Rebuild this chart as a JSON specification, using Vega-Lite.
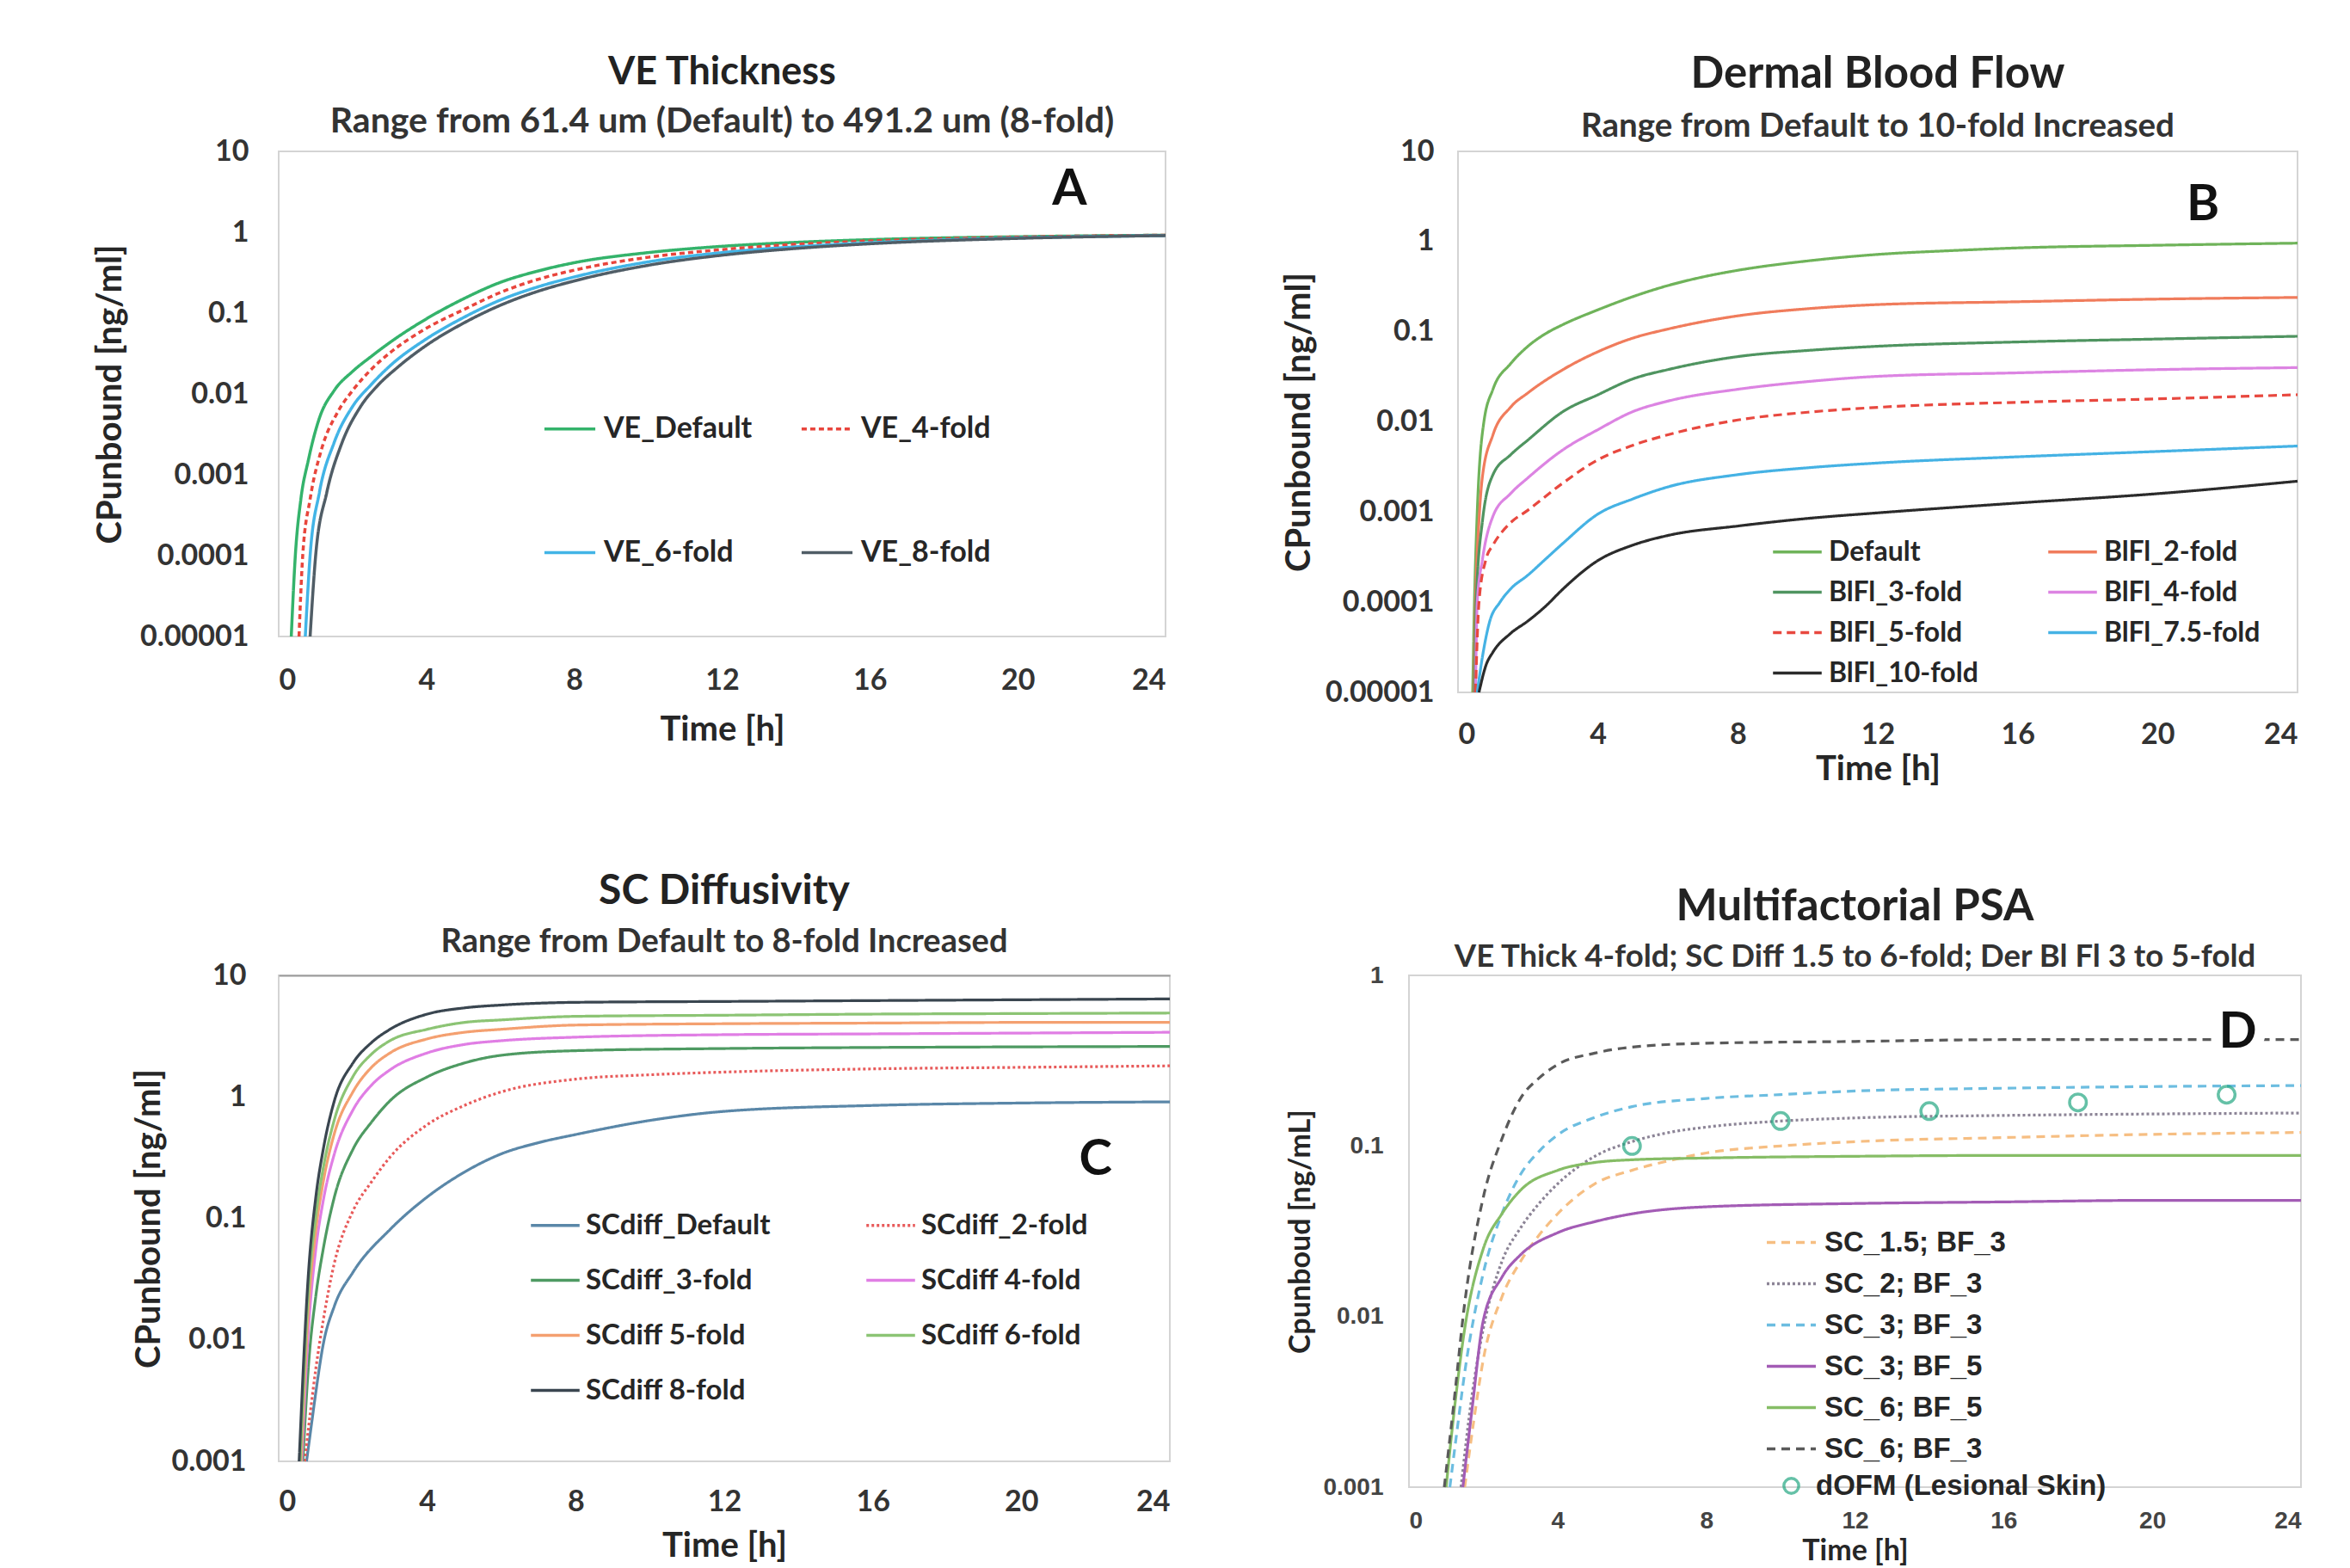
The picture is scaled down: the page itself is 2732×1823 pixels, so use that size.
{
  "$schema": "https://vega.github.io/schema/vega-lite/v6.json",
  "background": "white",
  "padding": {"left": 107, "top": 59, "right": 20, "bottom": 0},
  "config": {
    "font": "Lato",
    "view": {"stroke": "#d4d4d4", "strokeWidth": 2},
    "axis": {"labelFont": "Lato", "labelFontWeight": "bold", "labelFontSize": 34, "labelColor": "#333333", "titleFont": "Lato", "titleFontWeight": "bold", "titleFontSize": 40, "titleColor": "#262626", "ticks": false, "domain": false, "grid": false},
    "legend": {"labelFont": "Lato", "labelFontWeight": "bold", "labelColor": "#262626", "labelLimit": 0, "symbolType": "stroke", "symbolStrokeWidth": 4, "title": null},
    "title": {"font": "Lato", "subtitleFont": "Lato", "fontWeight": "bold", "subtitleFontWeight": "bold", "color": "#222222", "subtitleColor": "#333333", "anchor": "middle", "frame": "group"},
    "line": {"interpolate": "monotone", "strokeWidth": 3.5, "strokeCap": "butt"}
  },
  "resolve": {"scale": {"x": "independent", "y": "independent", "color": "independent", "strokeDash": "independent", "shape": "independent"}},
  "spacing": 97,
  "vconcat": [
    {
      "bounds": "flush",
      "spacing": 340,
      "resolve": {"scale": {"x": "independent", "y": "independent", "color": "independent", "strokeDash": "independent"}},
      "hconcat": [
        {
          "width": 1031, "height": 564,
          "title": {"text": "VE Thickness", "subtitle": "Range from 61.4 um (Default) to 491.2 um (8-fold)", "fontSize": 45, "subtitleFontSize": 41, "subtitlePadding": 15, "offset": -3},
          "encoding": {
            "x": {"field": "t", "type": "quantitative", "scale": {"domain": [0, 24], "nice": false}, "axis": {"values": [0, 4, 8, 12, 16, 20, 24], "title": "Time [h]", "labelPadding": 34, "titlePadding": 20}},
            "y": {"field": "c", "type": "quantitative", "scale": {"type": "log", "domain": [0.00001, 10], "nice": false}, "axis": {"values": [0.00001, 0.0001, 0.001, 0.01, 0.1, 1, 10], "format": "~f", "title": "CPunbound [ng/ml]", "labelPadding": 35, "titlePadding": 14}}
          },
          "layer": [
            {
              "data": {"name": "A"},
              "mark": {"type": "line", "strokeWidth": 3.5},
              "encoding": {
                "color": {"field": "series", "type": "nominal", "scale": {"domain": ["VE_Default", "VE_6-fold", "VE_4-fold", "VE_8-fold"], "range": ["#34b36b", "#42b4e6", "#e8453c", "#505d66"]},
                  "legend": {"orient": "none", "legendX": 307, "legendY": 291, "columns": 2, "columnPadding": 49, "rowPadding": 95, "symbolSize": 3500, "labelFontSize": 34, "labelOffset": 8}},
                "strokeDash": {"field": "series", "type": "nominal", "scale": {"domain": ["VE_Default", "VE_6-fold", "VE_4-fold", "VE_8-fold"], "range": [[1, 0], [1, 0], [6, 4], [1, 0]]},
                  "legend": {"orient": "none", "legendX": 307, "legendY": 291, "columns": 2, "columnPadding": 49, "rowPadding": 95, "symbolSize": 3500, "labelFontSize": 34, "labelOffset": 8}}
              }
            },
            {
              "data": {"name": "letters"},
              "transform": [{"filter": "datum.panel == 'A'"}],
              "mark": {"type": "text", "font": "Lato", "fontWeight": "bold", "fontSize": 58, "color": "#111111", "align": "center", "baseline": "middle"},
              "encoding": {"text": {"field": "label", "type": "nominal"}}
            }
          ]
        },
        {
          "width": 976, "height": 629,
          "title": {"text": "Dermal Blood Flow", "subtitle": "Range from Default to 10-fold Increased", "fontSize": 51, "subtitleFontSize": 38.5, "subtitlePadding": 16, "offset": -8},
          "encoding": {
            "x": {"field": "t", "type": "quantitative", "scale": {"domain": [0, 24], "nice": false}, "axis": {"values": [0, 4, 8, 12, 16, 20, 24], "title": "Time [h]", "labelPadding": 32, "titlePadding": 3}},
            "y": {"field": "c", "type": "quantitative", "scale": {"type": "log", "domain": [0.00001, 10], "nice": false}, "axis": {"values": [0.00001, 0.0001, 0.001, 0.01, 0.1, 1, 10], "format": "~f", "title": "CPunbound [ng/ml]", "labelPadding": 28, "titlePadding": 10}}
          },
          "layer": [
            {
              "data": {"name": "B"},
              "mark": {"type": "line", "strokeWidth": 3.2},
              "encoding": {
                "color": {"field": "series", "type": "nominal", "scale": {"domain": ["Default", "BlFl_3-fold", "BlFl_5-fold", "BlFl_10-fold", "BlFl_2-fold", "BlFl_4-fold", "BlFl_7.5-fold"], "range": ["#6fb35a", "#4f9460", "#e8483f", "#2b2b2b", "#f07c5c", "#dc84e2", "#45b2e4"]},
                  "legend": {"orient": "none", "legendX": 364, "legendY": 435, "columns": 2, "columnPadding": 74, "rowPadding": -3, "symbolSize": 3200, "labelFontSize": 32, "labelOffset": 6}},
                "strokeDash": {"field": "series", "type": "nominal", "scale": {"domain": ["Default", "BlFl_3-fold", "BlFl_5-fold", "BlFl_10-fold", "BlFl_2-fold", "BlFl_4-fold", "BlFl_7.5-fold"], "range": [[1, 0], [1, 0], [10, 6], [1, 0], [1, 0], [1, 0], [1, 0]]},
                  "legend": {"orient": "none", "legendX": 364, "legendY": 435, "columns": 2, "columnPadding": 74, "rowPadding": -3, "symbolSize": 3200, "labelFontSize": 32, "labelOffset": 6}}
              }
            },
            {
              "data": {"name": "letters"},
              "transform": [{"filter": "datum.panel == 'B'"}],
              "mark": {"type": "text", "font": "Lato", "fontWeight": "bold", "fontSize": 58, "color": "#111111", "align": "center", "baseline": "middle"},
              "encoding": {"text": {"field": "label", "type": "nominal"}}
            }
          ]
        }
      ]
    },
    {
      "bounds": "flush",
      "spacing": 278,
      "resolve": {"scale": {"x": "independent", "y": "independent", "color": "independent", "strokeDash": "independent", "shape": "independent"}},
      "hconcat": [
        {
          "width": 1036, "height": 565,
          "title": {"text": "SC Diffusivity", "subtitle": "Range from Default to 8-fold Increased", "fontSize": 48, "subtitleFontSize": 38, "subtitlePadding": 16, "offset": 2},
          "encoding": {
            "x": {"field": "t", "type": "quantitative", "scale": {"domain": [0, 24], "nice": false}, "axis": {"values": [0, 4, 8, 12, 16, 20, 24], "title": "Time [h]", "labelPadding": 30, "titlePadding": 14}},
            "y": {"field": "c", "type": "quantitative", "scale": {"type": "log", "domain": [0.001, 10], "nice": false}, "axis": {"values": [0.001, 0.01, 0.1, 1, 10], "format": "~f", "title": "CPunbound [ng/ml]", "labelPadding": 38, "titlePadding": 6, "grid": true, "gridWidth": 2, "gridColor": {"condition": {"test": "datum.value >= 9", "value": "#9a9a9a"}, "value": "transparent"}}}
          },
          "layer": [
            {
              "data": {"name": "C"},
              "mark": {"type": "line", "strokeWidth": 3.2},
              "encoding": {
                "color": {"field": "series", "type": "nominal", "scale": {"domain": ["SCdiff_Default", "SCdiff_3-fold", "SCdiff 5-fold", "SCdiff 8-fold", "SCdiff_2-fold", "SCdiff 4-fold", "SCdiff 6-fold"], "range": ["#5a87a8", "#4e9a62", "#f4a070", "#3a4650", "#e85a5a", "#e07ee4", "#8cc474"]},
                  "legend": {"orient": "none", "legendX": 291, "legendY": 260, "columns": 2, "columnPadding": 104, "rowPadding": 16, "symbolSize": 3200, "labelFontSize": 33, "labelOffset": 5}},
                "strokeDash": {"field": "series", "type": "nominal", "scale": {"domain": ["SCdiff_Default", "SCdiff_3-fold", "SCdiff 5-fold", "SCdiff 8-fold", "SCdiff_2-fold", "SCdiff 4-fold", "SCdiff 6-fold"], "range": [[1, 0], [1, 0], [1, 0], [1, 0], [3, 3], [1, 0], [1, 0]]},
                  "legend": {"orient": "none", "legendX": 291, "legendY": 260, "columns": 2, "columnPadding": 104, "rowPadding": 16, "symbolSize": 3200, "labelFontSize": 33, "labelOffset": 5}}
              }
            },
            {
              "data": {"name": "letters"},
              "transform": [{"filter": "datum.panel == 'C'"}],
              "mark": {"type": "text", "font": "Lato", "fontWeight": "bold", "fontSize": 58, "color": "#111111", "align": "center", "baseline": "middle"},
              "encoding": {"text": {"field": "label", "type": "nominal"}}
            }
          ]
        },
        {
          "width": 1037, "height": 595,
          "title": {"text": "Multifactorial PSA", "subtitle": "VE Thick 4-fold; SC Diff 1.5 to 6-fold; Der Bl Fl 3 to 5-fold", "fontSize": 51, "subtitleFontSize": 36.5, "subtitlePadding": 14, "offset": -12},
          "encoding": {
            "x": {"field": "t", "type": "quantitative", "scale": {"domain": [0, 24], "nice": false}, "axis": {"values": [0, 4, 8, 12, 16, 20, 24], "title": "Time [h]", "labelPadding": 25, "titlePadding": 4, "labelFont": "Liberation Sans", "labelFontSize": 28, "labelColor": "#444444", "titleFontSize": 34}},
            "y": {"field": "c", "type": "quantitative", "scale": {"type": "log", "domain": [0.001, 1], "nice": false}, "axis": {"values": [0.001, 0.01, 0.1, 1], "format": "~f", "title": "Cpunboud [ng/mL]", "labelPadding": 30, "titlePadding": 8, "labelFont": "Liberation Sans", "labelFontSize": 28, "labelColor": "#444444", "titleFontSize": 34}}
          },
          "layer": [
            {
              "data": {"name": "D"},
              "mark": {"type": "line", "strokeWidth": 3.2},
              "encoding": {
                "color": {"field": "series", "type": "nominal", "scale": {"domain": ["SC_1.5; BF_3", "SC_2; BF_3", "SC_3; BF_3", "SC_3; BF_5", "SC_6; BF_5", "SC_6; BF_3"], "range": ["#f6be82", "#8c8496", "#6cbde0", "#a35cb5", "#86bd66", "#5a5a5a"]},
                  "legend": {"orient": "none", "legendX": 414, "legendY": 280, "columns": 1, "rowPadding": -3, "symbolSize": 3250, "labelFont": "Liberation Sans", "labelFontSize": 33, "labelOffset": 8}},
                "strokeDash": {"field": "series", "type": "nominal", "scale": {"domain": ["SC_1.5; BF_3", "SC_2; BF_3", "SC_3; BF_3", "SC_3; BF_5", "SC_6; BF_5", "SC_6; BF_3"], "range": [[10, 7], [3, 3], [10, 7], [1, 0], [1, 0], [10, 7]]},
                  "legend": {"orient": "none", "legendX": 414, "legendY": 280, "columns": 1, "rowPadding": -3, "symbolSize": 3250, "labelFont": "Liberation Sans", "labelFontSize": 33, "labelOffset": 8}}
              }
            },
            {
              "data": {"name": "obs"},
              "mark": {"type": "point", "filled": false, "stroke": "#24a882", "strokeWidth": 3.5, "size": 380},
              "encoding": {
                "shape": {"field": "series", "type": "nominal", "scale": {"domain": ["dOFM (Lesional Skin)"], "range": ["circle"]},
                  "legend": {"orient": "none", "legendX": 428, "legendY": 577, "symbolType": "circle", "symbolSize": 300, "symbolStrokeColor": "#24a882", "symbolFillColor": "transparent", "symbolStrokeWidth": 3.5, "labelFont": "Liberation Sans", "labelFontSize": 33, "labelOffset": 12}}
              }
            },
            {
              "data": {"name": "letters"},
              "transform": [{"filter": "datum.panel == 'D'"}],
              "mark": {"type": "text", "font": "Lato", "fontWeight": "bold", "fontSize": 58, "stroke": "white", "strokeWidth": 26, "color": "white", "align": "center", "baseline": "middle"},
              "encoding": {"text": {"field": "label", "type": "nominal"}}
            },
            {
              "data": {"name": "letters"},
              "transform": [{"filter": "datum.panel == 'D'"}],
              "mark": {"type": "text", "font": "Lato", "fontWeight": "bold", "fontSize": 58, "color": "#111111", "align": "center", "baseline": "middle"},
              "encoding": {"text": {"field": "label", "type": "nominal"}}
            }
          ]
        }
      ]
    }
  ],
  "datasets": {
    "letters": [
      {"panel": "A", "label": "A", "t": 21.4, "c": 3.3},
      {"panel": "B", "label": "B", "t": 21.3, "c": 2.5},
      {"panel": "C", "label": "C", "t": 22.0, "c": 0.3},
      {"panel": "D", "label": "D", "t": 22.3, "c": 0.46}
    ],
    "obs": [
      {"series": "dOFM (Lesional Skin)", "t": 6, "c": 0.1},
      {"series": "dOFM (Lesional Skin)", "t": 10, "c": 0.14},
      {"series": "dOFM (Lesional Skin)", "t": 14, "c": 0.16},
      {"series": "dOFM (Lesional Skin)", "t": 18, "c": 0.18},
      {"series": "dOFM (Lesional Skin)", "t": 22, "c": 0.2}
    ],
    "A": [
      {"series": "VE_Default", "t": 0.34, "c": 0.00001}, {"series": "VE_Default", "t": 0.45, "c": 0.0001}, {"series": "VE_Default", "t": 0.6, "c": 0.0005}, {"series": "VE_Default", "t": 0.8, "c": 0.0015}, {"series": "VE_Default", "t": 1.1, "c": 0.005}, {"series": "VE_Default", "t": 1.5, "c": 0.011}, {"series": "VE_Default", "t": 2, "c": 0.019}, {"series": "VE_Default", "t": 2.5, "c": 0.029}, {"series": "VE_Default", "t": 3, "c": 0.043}, {"series": "VE_Default", "t": 4, "c": 0.085}, {"series": "VE_Default", "t": 5, "c": 0.15}, {"series": "VE_Default", "t": 6, "c": 0.24}, {"series": "VE_Default", "t": 7, "c": 0.33}, {"series": "VE_Default", "t": 8, "c": 0.42}, {"series": "VE_Default", "t": 10, "c": 0.56}, {"series": "VE_Default", "t": 12, "c": 0.67}, {"series": "VE_Default", "t": 14, "c": 0.75}, {"series": "VE_Default", "t": 16, "c": 0.81}, {"series": "VE_Default", "t": 20, "c": 0.88}, {"series": "VE_Default", "t": 24, "c": 0.92},
      {"series": "VE_4-fold", "t": 0.55, "c": 0.00001}, {"series": "VE_4-fold", "t": 0.65, "c": 0.0001}, {"series": "VE_4-fold", "t": 0.85, "c": 0.0005}, {"series": "VE_4-fold", "t": 1.15, "c": 0.002}, {"series": "VE_4-fold", "t": 1.6, "c": 0.006}, {"series": "VE_4-fold", "t": 2, "c": 0.011}, {"series": "VE_4-fold", "t": 2.5, "c": 0.02}, {"series": "VE_4-fold", "t": 3, "c": 0.032}, {"series": "VE_4-fold", "t": 4, "c": 0.065}, {"series": "VE_4-fold", "t": 5, "c": 0.11}, {"series": "VE_4-fold", "t": 6, "c": 0.18}, {"series": "VE_4-fold", "t": 7, "c": 0.26}, {"series": "VE_4-fold", "t": 8, "c": 0.34}, {"series": "VE_4-fold", "t": 10, "c": 0.49}, {"series": "VE_4-fold", "t": 12, "c": 0.61}, {"series": "VE_4-fold", "t": 14, "c": 0.71}, {"series": "VE_4-fold", "t": 16, "c": 0.78}, {"series": "VE_4-fold", "t": 20, "c": 0.87}, {"series": "VE_4-fold", "t": 24, "c": 0.92},
      {"series": "VE_6-fold", "t": 0.72, "c": 0.00001}, {"series": "VE_6-fold", "t": 0.85, "c": 0.0001}, {"series": "VE_6-fold", "t": 1.1, "c": 0.0006}, {"series": "VE_6-fold", "t": 1.5, "c": 0.0025}, {"series": "VE_6-fold", "t": 2, "c": 0.007}, {"series": "VE_6-fold", "t": 2.5, "c": 0.013}, {"series": "VE_6-fold", "t": 3, "c": 0.022}, {"series": "VE_6-fold", "t": 4, "c": 0.048}, {"series": "VE_6-fold", "t": 5, "c": 0.088}, {"series": "VE_6-fold", "t": 6, "c": 0.145}, {"series": "VE_6-fold", "t": 7, "c": 0.21}, {"series": "VE_6-fold", "t": 8, "c": 0.28}, {"series": "VE_6-fold", "t": 10, "c": 0.43}, {"series": "VE_6-fold", "t": 12, "c": 0.56}, {"series": "VE_6-fold", "t": 14, "c": 0.66}, {"series": "VE_6-fold", "t": 16, "c": 0.74}, {"series": "VE_6-fold", "t": 20, "c": 0.85}, {"series": "VE_6-fold", "t": 24, "c": 0.91},
      {"series": "VE_8-fold", "t": 0.85, "c": 0.00001}, {"series": "VE_8-fold", "t": 1.0, "c": 0.0001}, {"series": "VE_8-fold", "t": 1.3, "c": 0.0006}, {"series": "VE_8-fold", "t": 1.7, "c": 0.0024}, {"series": "VE_8-fold", "t": 2.2, "c": 0.0068}, {"series": "VE_8-fold", "t": 2.7, "c": 0.013}, {"series": "VE_8-fold", "t": 3.2, "c": 0.021}, {"series": "VE_8-fold", "t": 4, "c": 0.04}, {"series": "VE_8-fold", "t": 5, "c": 0.075}, {"series": "VE_8-fold", "t": 6, "c": 0.125}, {"series": "VE_8-fold", "t": 7, "c": 0.185}, {"series": "VE_8-fold", "t": 8, "c": 0.25}, {"series": "VE_8-fold", "t": 10, "c": 0.39}, {"series": "VE_8-fold", "t": 12, "c": 0.52}, {"series": "VE_8-fold", "t": 14, "c": 0.63}, {"series": "VE_8-fold", "t": 16, "c": 0.72}, {"series": "VE_8-fold", "t": 20, "c": 0.84}, {"series": "VE_8-fold", "t": 24, "c": 0.91}
    ],
    "B": [
      {"series": "Default", "t": 0.42, "c": 0.00001}, {"series": "Default", "t": 0.47, "c": 0.0001}, {"series": "Default", "t": 0.55, "c": 0.001}, {"series": "Default", "t": 0.74, "c": 0.01}, {"series": "Default", "t": 1, "c": 0.023}, {"series": "Default", "t": 1.5, "c": 0.044}, {"series": "Default", "t": 2, "c": 0.069}, {"series": "Default", "t": 2.5, "c": 0.095}, {"series": "Default", "t": 3, "c": 0.12}, {"series": "Default", "t": 4, "c": 0.175}, {"series": "Default", "t": 5, "c": 0.245}, {"series": "Default", "t": 6, "c": 0.325}, {"series": "Default", "t": 7, "c": 0.405}, {"series": "Default", "t": 8, "c": 0.48}, {"series": "Default", "t": 10, "c": 0.61}, {"series": "Default", "t": 12, "c": 0.72}, {"series": "Default", "t": 14, "c": 0.79}, {"series": "Default", "t": 16, "c": 0.85}, {"series": "Default", "t": 20, "c": 0.91}, {"series": "Default", "t": 24, "c": 0.96},
      {"series": "BlFl_2-fold", "t": 0.45, "c": 0.00001}, {"series": "BlFl_2-fold", "t": 0.5, "c": 0.0001}, {"series": "BlFl_2-fold", "t": 0.6, "c": 0.0008}, {"series": "BlFl_2-fold", "t": 0.7, "c": 0.0025}, {"series": "BlFl_2-fold", "t": 1, "c": 0.0072}, {"series": "BlFl_2-fold", "t": 1.5, "c": 0.0145}, {"series": "BlFl_2-fold", "t": 2, "c": 0.021}, {"series": "BlFl_2-fold", "t": 3, "c": 0.038}, {"series": "BlFl_2-fold", "t": 4, "c": 0.06}, {"series": "BlFl_2-fold", "t": 5, "c": 0.085}, {"series": "BlFl_2-fold", "t": 6, "c": 0.107}, {"series": "BlFl_2-fold", "t": 8, "c": 0.15}, {"series": "BlFl_2-fold", "t": 10, "c": 0.18}, {"series": "BlFl_2-fold", "t": 12, "c": 0.2}, {"series": "BlFl_2-fold", "t": 16, "c": 0.215}, {"series": "BlFl_2-fold", "t": 20, "c": 0.23}, {"series": "BlFl_2-fold", "t": 24, "c": 0.24},
      {"series": "BlFl_3-fold", "t": 0.47, "c": 0.00001}, {"series": "BlFl_3-fold", "t": 0.52, "c": 0.0001}, {"series": "BlFl_3-fold", "t": 0.7, "c": 0.0008}, {"series": "BlFl_3-fold", "t": 1, "c": 0.0026}, {"series": "BlFl_3-fold", "t": 1.5, "c": 0.0043}, {"series": "BlFl_3-fold", "t": 2, "c": 0.0063}, {"series": "BlFl_3-fold", "t": 3, "c": 0.013}, {"series": "BlFl_3-fold", "t": 4, "c": 0.02}, {"series": "BlFl_3-fold", "t": 5, "c": 0.03}, {"series": "BlFl_3-fold", "t": 6, "c": 0.038}, {"series": "BlFl_3-fold", "t": 8, "c": 0.053}, {"series": "BlFl_3-fold", "t": 10, "c": 0.062}, {"series": "BlFl_3-fold", "t": 12, "c": 0.069}, {"series": "BlFl_3-fold", "t": 16, "c": 0.077}, {"series": "BlFl_3-fold", "t": 20, "c": 0.083}, {"series": "BlFl_3-fold", "t": 24, "c": 0.089},
      {"series": "BlFl_4-fold", "t": 0.5, "c": 0.00001}, {"series": "BlFl_4-fold", "t": 0.55, "c": 0.0001}, {"series": "BlFl_4-fold", "t": 0.7, "c": 0.0003}, {"series": "BlFl_4-fold", "t": 1, "c": 0.0009}, {"series": "BlFl_4-fold", "t": 1.5, "c": 0.0016}, {"series": "BlFl_4-fold", "t": 2, "c": 0.0024}, {"series": "BlFl_4-fold", "t": 3, "c": 0.0049}, {"series": "BlFl_4-fold", "t": 4, "c": 0.0082}, {"series": "BlFl_4-fold", "t": 5, "c": 0.013}, {"series": "BlFl_4-fold", "t": 6, "c": 0.017}, {"series": "BlFl_4-fold", "t": 8, "c": 0.023}, {"series": "BlFl_4-fold", "t": 10, "c": 0.028}, {"series": "BlFl_4-fold", "t": 12, "c": 0.032}, {"series": "BlFl_4-fold", "t": 16, "c": 0.035}, {"series": "BlFl_4-fold", "t": 20, "c": 0.038}, {"series": "BlFl_4-fold", "t": 24, "c": 0.04},
      {"series": "BlFl_5-fold", "t": 0.5, "c": 0.00001}, {"series": "BlFl_5-fold", "t": 0.6, "c": 0.0001}, {"series": "BlFl_5-fold", "t": 0.8, "c": 0.0003}, {"series": "BlFl_5-fold", "t": 1, "c": 0.00043}, {"series": "BlFl_5-fold", "t": 1.5, "c": 0.00076}, {"series": "BlFl_5-fold", "t": 2, "c": 0.00105}, {"series": "BlFl_5-fold", "t": 3, "c": 0.0021}, {"series": "BlFl_5-fold", "t": 4, "c": 0.0038}, {"series": "BlFl_5-fold", "t": 5, "c": 0.0055}, {"series": "BlFl_5-fold", "t": 6, "c": 0.0072}, {"series": "BlFl_5-fold", "t": 8, "c": 0.0105}, {"series": "BlFl_5-fold", "t": 10, "c": 0.0128}, {"series": "BlFl_5-fold", "t": 12, "c": 0.0145}, {"series": "BlFl_5-fold", "t": 16, "c": 0.0165}, {"series": "BlFl_5-fold", "t": 20, "c": 0.018}, {"series": "BlFl_5-fold", "t": 24, "c": 0.02},
      {"series": "BlFl_7.5-fold", "t": 0.55, "c": 0.00001}, {"series": "BlFl_7.5-fold", "t": 0.7, "c": 0.000025}, {"series": "BlFl_7.5-fold", "t": 0.9, "c": 0.00006}, {"series": "BlFl_7.5-fold", "t": 1.2, "c": 0.0001}, {"series": "BlFl_7.5-fold", "t": 1.5, "c": 0.00014}, {"series": "BlFl_7.5-fold", "t": 2, "c": 0.0002}, {"series": "BlFl_7.5-fold", "t": 2.5, "c": 0.0003}, {"series": "BlFl_7.5-fold", "t": 3, "c": 0.00045}, {"series": "BlFl_7.5-fold", "t": 4, "c": 0.00095}, {"series": "BlFl_7.5-fold", "t": 5, "c": 0.0014}, {"series": "BlFl_7.5-fold", "t": 6, "c": 0.0019}, {"series": "BlFl_7.5-fold", "t": 8, "c": 0.0026}, {"series": "BlFl_7.5-fold", "t": 10, "c": 0.0031}, {"series": "BlFl_7.5-fold", "t": 12, "c": 0.0035}, {"series": "BlFl_7.5-fold", "t": 16, "c": 0.0041}, {"series": "BlFl_7.5-fold", "t": 20, "c": 0.0047}, {"series": "BlFl_7.5-fold", "t": 24, "c": 0.0054},
      {"series": "BlFl_10-fold", "t": 0.6, "c": 0.00001}, {"series": "BlFl_10-fold", "t": 0.8, "c": 0.00002}, {"series": "BlFl_10-fold", "t": 1, "c": 0.000028}, {"series": "BlFl_10-fold", "t": 1.5, "c": 0.000045}, {"series": "BlFl_10-fold", "t": 2, "c": 0.000062}, {"series": "BlFl_10-fold", "t": 2.5, "c": 0.00009}, {"series": "BlFl_10-fold", "t": 3, "c": 0.00014}, {"series": "BlFl_10-fold", "t": 4, "c": 0.00029}, {"series": "BlFl_10-fold", "t": 5, "c": 0.00043}, {"series": "BlFl_10-fold", "t": 6, "c": 0.00055}, {"series": "BlFl_10-fold", "t": 8, "c": 0.0007}, {"series": "BlFl_10-fold", "t": 10, "c": 0.00085}, {"series": "BlFl_10-fold", "t": 12, "c": 0.00098}, {"series": "BlFl_10-fold", "t": 16, "c": 0.00126}, {"series": "BlFl_10-fold", "t": 20, "c": 0.0016}, {"series": "BlFl_10-fold", "t": 24, "c": 0.0022}
    ],
    "C": [
      {"series": "SCdiff_Default", "t": 0.75, "c": 0.001}, {"series": "SCdiff_Default", "t": 0.9, "c": 0.0022}, {"series": "SCdiff_Default", "t": 1, "c": 0.0037}, {"series": "SCdiff_Default", "t": 1.2, "c": 0.0092}, {"series": "SCdiff_Default", "t": 1.5, "c": 0.019}, {"series": "SCdiff_Default", "t": 2, "c": 0.036}, {"series": "SCdiff_Default", "t": 3, "c": 0.081}, {"series": "SCdiff_Default", "t": 4, "c": 0.15}, {"series": "SCdiff_Default", "t": 5, "c": 0.24}, {"series": "SCdiff_Default", "t": 6, "c": 0.34}, {"series": "SCdiff_Default", "t": 7, "c": 0.42}, {"series": "SCdiff_Default", "t": 8, "c": 0.49}, {"series": "SCdiff_Default", "t": 10, "c": 0.64}, {"series": "SCdiff_Default", "t": 12, "c": 0.76}, {"series": "SCdiff_Default", "t": 16, "c": 0.85}, {"series": "SCdiff_Default", "t": 20, "c": 0.89}, {"series": "SCdiff_Default", "t": 24, "c": 0.91},
      {"series": "SCdiff_2-fold", "t": 0.7, "c": 0.001}, {"series": "SCdiff_2-fold", "t": 0.85, "c": 0.0025}, {"series": "SCdiff_2-fold", "t": 1, "c": 0.0058}, {"series": "SCdiff_2-fold", "t": 1.2, "c": 0.0145}, {"series": "SCdiff_2-fold", "t": 1.5, "c": 0.043}, {"series": "SCdiff_2-fold", "t": 2, "c": 0.115}, {"series": "SCdiff_2-fold", "t": 2.5, "c": 0.2}, {"series": "SCdiff_2-fold", "t": 3, "c": 0.32}, {"series": "SCdiff_2-fold", "t": 4, "c": 0.59}, {"series": "SCdiff_2-fold", "t": 5, "c": 0.85}, {"series": "SCdiff_2-fold", "t": 6, "c": 1.1}, {"series": "SCdiff_2-fold", "t": 8, "c": 1.4}, {"series": "SCdiff_2-fold", "t": 10, "c": 1.52}, {"series": "SCdiff_2-fold", "t": 12, "c": 1.6}, {"series": "SCdiff_2-fold", "t": 16, "c": 1.7}, {"series": "SCdiff_2-fold", "t": 20, "c": 1.75}, {"series": "SCdiff_2-fold", "t": 24, "c": 1.8},
      {"series": "SCdiff_3-fold", "t": 0.65, "c": 0.001}, {"series": "SCdiff_3-fold", "t": 0.8, "c": 0.006}, {"series": "SCdiff_3-fold", "t": 1, "c": 0.023}, {"series": "SCdiff_3-fold", "t": 1.2, "c": 0.056}, {"series": "SCdiff_3-fold", "t": 1.5, "c": 0.15}, {"series": "SCdiff_3-fold", "t": 2, "c": 0.37}, {"series": "SCdiff_3-fold", "t": 2.5, "c": 0.62}, {"series": "SCdiff_3-fold", "t": 3, "c": 0.93}, {"series": "SCdiff_3-fold", "t": 4, "c": 1.46}, {"series": "SCdiff_3-fold", "t": 5, "c": 1.9}, {"series": "SCdiff_3-fold", "t": 6, "c": 2.2}, {"series": "SCdiff_3-fold", "t": 8, "c": 2.4}, {"series": "SCdiff_3-fold", "t": 12, "c": 2.5}, {"series": "SCdiff_3-fold", "t": 16, "c": 2.55}, {"series": "SCdiff_3-fold", "t": 20, "c": 2.58}, {"series": "SCdiff_3-fold", "t": 24, "c": 2.6},
      {"series": "SCdiff 4-fold", "t": 0.62, "c": 0.001}, {"series": "SCdiff 4-fold", "t": 0.8, "c": 0.012}, {"series": "SCdiff 4-fold", "t": 1, "c": 0.056}, {"series": "SCdiff 4-fold", "t": 1.2, "c": 0.14}, {"series": "SCdiff 4-fold", "t": 1.5, "c": 0.34}, {"series": "SCdiff 4-fold", "t": 2, "c": 0.78}, {"series": "SCdiff 4-fold", "t": 2.5, "c": 1.25}, {"series": "SCdiff 4-fold", "t": 3, "c": 1.67}, {"series": "SCdiff 4-fold", "t": 4, "c": 2.3}, {"series": "SCdiff 4-fold", "t": 5, "c": 2.7}, {"series": "SCdiff 4-fold", "t": 6, "c": 2.9}, {"series": "SCdiff 4-fold", "t": 8, "c": 3.1}, {"series": "SCdiff 4-fold", "t": 12, "c": 3.25}, {"series": "SCdiff 4-fold", "t": 16, "c": 3.3}, {"series": "SCdiff 4-fold", "t": 20, "c": 3.35}, {"series": "SCdiff 4-fold", "t": 24, "c": 3.4},
      {"series": "SCdiff 5-fold", "t": 0.6, "c": 0.001}, {"series": "SCdiff 5-fold", "t": 0.8, "c": 0.018}, {"series": "SCdiff 5-fold", "t": 1, "c": 0.08}, {"series": "SCdiff 5-fold", "t": 1.2, "c": 0.2}, {"series": "SCdiff 5-fold", "t": 1.5, "c": 0.5}, {"series": "SCdiff 5-fold", "t": 2, "c": 1.1}, {"series": "SCdiff 5-fold", "t": 2.5, "c": 1.75}, {"series": "SCdiff 5-fold", "t": 3, "c": 2.3}, {"series": "SCdiff 5-fold", "t": 4, "c": 3.0}, {"series": "SCdiff 5-fold", "t": 5, "c": 3.4}, {"series": "SCdiff 5-fold", "t": 6, "c": 3.6}, {"series": "SCdiff 5-fold", "t": 8, "c": 3.9}, {"series": "SCdiff 5-fold", "t": 12, "c": 4.0}, {"series": "SCdiff 5-fold", "t": 16, "c": 4.05}, {"series": "SCdiff 5-fold", "t": 20, "c": 4.1}, {"series": "SCdiff 5-fold", "t": 24, "c": 4.1},
      {"series": "SCdiff 6-fold", "t": 0.58, "c": 0.001}, {"series": "SCdiff 6-fold", "t": 0.8, "c": 0.025}, {"series": "SCdiff 6-fold", "t": 1, "c": 0.105}, {"series": "SCdiff 6-fold", "t": 1.2, "c": 0.26}, {"series": "SCdiff 6-fold", "t": 1.5, "c": 0.65}, {"series": "SCdiff 6-fold", "t": 2, "c": 1.47}, {"series": "SCdiff 6-fold", "t": 2.5, "c": 2.25}, {"series": "SCdiff 6-fold", "t": 3, "c": 2.9}, {"series": "SCdiff 6-fold", "t": 4, "c": 3.6}, {"series": "SCdiff 6-fold", "t": 5, "c": 4.1}, {"series": "SCdiff 6-fold", "t": 6, "c": 4.3}, {"series": "SCdiff 6-fold", "t": 8, "c": 4.6}, {"series": "SCdiff 6-fold", "t": 12, "c": 4.7}, {"series": "SCdiff 6-fold", "t": 16, "c": 4.8}, {"series": "SCdiff 6-fold", "t": 20, "c": 4.85}, {"series": "SCdiff 6-fold", "t": 24, "c": 4.9},
      {"series": "SCdiff 8-fold", "t": 0.55, "c": 0.001}, {"series": "SCdiff 8-fold", "t": 0.8, "c": 0.035}, {"series": "SCdiff 8-fold", "t": 1, "c": 0.15}, {"series": "SCdiff 8-fold", "t": 1.2, "c": 0.37}, {"series": "SCdiff 8-fold", "t": 1.5, "c": 0.93}, {"series": "SCdiff 8-fold", "t": 2, "c": 1.9}, {"series": "SCdiff 8-fold", "t": 2.5, "c": 2.8}, {"series": "SCdiff 8-fold", "t": 3, "c": 3.6}, {"series": "SCdiff 8-fold", "t": 4, "c": 4.8}, {"series": "SCdiff 8-fold", "t": 5, "c": 5.4}, {"series": "SCdiff 8-fold", "t": 6, "c": 5.7}, {"series": "SCdiff 8-fold", "t": 8, "c": 6.0}, {"series": "SCdiff 8-fold", "t": 12, "c": 6.1}, {"series": "SCdiff 8-fold", "t": 16, "c": 6.2}, {"series": "SCdiff 8-fold", "t": 20, "c": 6.3}, {"series": "SCdiff 8-fold", "t": 24, "c": 6.4}
    ],
    "D": [
      {"series": "SC_1.5; BF_3", "t": 1.5, "c": 0.001}, {"series": "SC_1.5; BF_3", "t": 1.75, "c": 0.0025}, {"series": "SC_1.5; BF_3", "t": 2, "c": 0.0056}, {"series": "SC_1.5; BF_3", "t": 2.5, "c": 0.013}, {"series": "SC_1.5; BF_3", "t": 3, "c": 0.021}, {"series": "SC_1.5; BF_3", "t": 3.5, "c": 0.03}, {"series": "SC_1.5; BF_3", "t": 4, "c": 0.04}, {"series": "SC_1.5; BF_3", "t": 5, "c": 0.06}, {"series": "SC_1.5; BF_3", "t": 6, "c": 0.072}, {"series": "SC_1.5; BF_3", "t": 7, "c": 0.082}, {"series": "SC_1.5; BF_3", "t": 8, "c": 0.091}, {"series": "SC_1.5; BF_3", "t": 10, "c": 0.1}, {"series": "SC_1.5; BF_3", "t": 12, "c": 0.106}, {"series": "SC_1.5; BF_3", "t": 16, "c": 0.112}, {"series": "SC_1.5; BF_3", "t": 20, "c": 0.117}, {"series": "SC_1.5; BF_3", "t": 24, "c": 0.12},
      {"series": "SC_2; BF_3", "t": 1.4, "c": 0.001}, {"series": "SC_2; BF_3", "t": 1.7, "c": 0.0035}, {"series": "SC_2; BF_3", "t": 2, "c": 0.0085}, {"series": "SC_2; BF_3", "t": 2.5, "c": 0.021}, {"series": "SC_2; BF_3", "t": 3, "c": 0.033}, {"series": "SC_2; BF_3", "t": 3.5, "c": 0.046}, {"series": "SC_2; BF_3", "t": 4, "c": 0.06}, {"series": "SC_2; BF_3", "t": 5, "c": 0.087}, {"series": "SC_2; BF_3", "t": 6, "c": 0.106}, {"series": "SC_2; BF_3", "t": 7, "c": 0.12}, {"series": "SC_2; BF_3", "t": 8, "c": 0.129}, {"series": "SC_2; BF_3", "t": 10, "c": 0.14}, {"series": "SC_2; BF_3", "t": 12, "c": 0.146}, {"series": "SC_2; BF_3", "t": 16, "c": 0.151}, {"series": "SC_2; BF_3", "t": 20, "c": 0.154}, {"series": "SC_2; BF_3", "t": 24, "c": 0.156},
      {"series": "SC_3; BF_3", "t": 1.1, "c": 0.001}, {"series": "SC_3; BF_3", "t": 1.3, "c": 0.0022}, {"series": "SC_3; BF_3", "t": 1.5, "c": 0.0047}, {"series": "SC_3; BF_3", "t": 2, "c": 0.018}, {"series": "SC_3; BF_3", "t": 2.5, "c": 0.04}, {"series": "SC_3; BF_3", "t": 3, "c": 0.068}, {"series": "SC_3; BF_3", "t": 3.5, "c": 0.093}, {"series": "SC_3; BF_3", "t": 4, "c": 0.116}, {"series": "SC_3; BF_3", "t": 5, "c": 0.147}, {"series": "SC_3; BF_3", "t": 6, "c": 0.17}, {"series": "SC_3; BF_3", "t": 8, "c": 0.19}, {"series": "SC_3; BF_3", "t": 10, "c": 0.2}, {"series": "SC_3; BF_3", "t": 12, "c": 0.21}, {"series": "SC_3; BF_3", "t": 16, "c": 0.218}, {"series": "SC_3; BF_3", "t": 20, "c": 0.223}, {"series": "SC_3; BF_3", "t": 24, "c": 0.226},
      {"series": "SC_3; BF_5", "t": 1.45, "c": 0.001}, {"series": "SC_3; BF_5", "t": 1.7, "c": 0.0029}, {"series": "SC_3; BF_5", "t": 2, "c": 0.0095}, {"series": "SC_3; BF_5", "t": 2.5, "c": 0.017}, {"series": "SC_3; BF_5", "t": 3, "c": 0.023}, {"series": "SC_3; BF_5", "t": 4, "c": 0.031}, {"series": "SC_3; BF_5", "t": 5, "c": 0.036}, {"series": "SC_3; BF_5", "t": 6, "c": 0.04}, {"series": "SC_3; BF_5", "t": 8, "c": 0.044}, {"series": "SC_3; BF_5", "t": 12, "c": 0.046}, {"series": "SC_3; BF_5", "t": 16, "c": 0.047}, {"series": "SC_3; BF_5", "t": 20, "c": 0.048}, {"series": "SC_3; BF_5", "t": 24, "c": 0.048},
      {"series": "SC_6; BF_5", "t": 1.0, "c": 0.001}, {"series": "SC_6; BF_5", "t": 1.2, "c": 0.0026}, {"series": "SC_6; BF_5", "t": 1.5, "c": 0.0085}, {"series": "SC_6; BF_5", "t": 2, "c": 0.025}, {"series": "SC_6; BF_5", "t": 2.5, "c": 0.04}, {"series": "SC_6; BF_5", "t": 3, "c": 0.055}, {"series": "SC_6; BF_5", "t": 4, "c": 0.072}, {"series": "SC_6; BF_5", "t": 5, "c": 0.08}, {"series": "SC_6; BF_5", "t": 6, "c": 0.083}, {"series": "SC_6; BF_5", "t": 8, "c": 0.085}, {"series": "SC_6; BF_5", "t": 12, "c": 0.087}, {"series": "SC_6; BF_5", "t": 16, "c": 0.088}, {"series": "SC_6; BF_5", "t": 24, "c": 0.088},
      {"series": "SC_6; BF_3", "t": 0.95, "c": 0.001}, {"series": "SC_6; BF_3", "t": 1.2, "c": 0.003}, {"series": "SC_6; BF_3", "t": 1.5, "c": 0.012}, {"series": "SC_6; BF_3", "t": 2, "c": 0.05}, {"series": "SC_6; BF_3", "t": 2.5, "c": 0.11}, {"series": "SC_6; BF_3", "t": 3, "c": 0.19}, {"series": "SC_6; BF_3", "t": 3.5, "c": 0.25}, {"series": "SC_6; BF_3", "t": 4, "c": 0.3}, {"series": "SC_6; BF_3", "t": 5, "c": 0.35}, {"series": "SC_6; BF_3", "t": 6, "c": 0.38}, {"series": "SC_6; BF_3", "t": 8, "c": 0.4}, {"series": "SC_6; BF_3", "t": 12, "c": 0.41}, {"series": "SC_6; BF_3", "t": 16, "c": 0.42}, {"series": "SC_6; BF_3", "t": 20, "c": 0.42}, {"series": "SC_6; BF_3", "t": 24, "c": 0.42}
    ]
  }
}
